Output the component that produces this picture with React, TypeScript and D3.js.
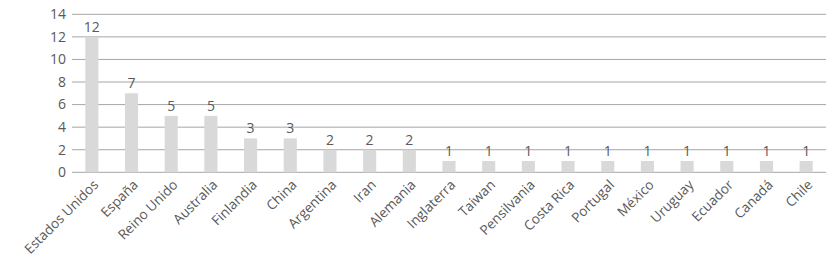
import React from "react";
import * as d3 from "d3";

const categories = ["Estados Unidos","España","Reino Unido","Australia","Finlandia","China","Argentina","Iran","Alemania","Inglaterra","Taiwan","Pensilvania","Costa Rica","Portugal","México","Uruguay","Ecuador","Canadá","Chile"];
const values = [12,7,5,5,3,3,2,2,2,1,1,1,1,1,1,1,1,1,1];
const yTicks = [0,2,4,6,8,10,12,14];

export default function App() {
  const W = 838, H = 268;
  const left = 72, right = 826, top = 14.3, bottom = 172.3;
  const x = d3.scaleBand<string>().domain(categories).range([left, right]).paddingInner(0.67).paddingOuter(0.335);
  const y = d3.scaleLinear().domain([0, 14]).range([bottom, top]);
  const font = "'Open Sans', 'Segoe UI', sans-serif";
  const textColor = "#595959";
  return (
    <svg width={W} height={H} style={{ position: "absolute", left: 0, top: 0 }} fontFamily={font}>
      {yTicks.map(t => (
        <g key={t}>
          <line x1={left} x2={right} y1={y(t)} y2={y(t)} stroke="#a6a6a6" strokeWidth={1} />
          <text x={left - 6} y={y(t)} dy="0.35em" textAnchor="end" fontSize={14} fill={textColor}>{t}</text>
        </g>
      ))}
      {categories.map((c, i) => {
        const bx = x(c)!;
        const cx = bx + x.bandwidth() / 2;
        return (
          <g key={c}>
            <rect x={bx} y={y(values[i])} width={x.bandwidth()} height={bottom - y(values[i])} fill="#d9d9d9" />
            <text x={cx} y={y(values[i]) - 5} textAnchor="middle" fontSize={14} fill={textColor}>{values[i]}</text>
            <text transform={`translate(${cx + 4},${bottom + 10}) rotate(-45)`} textAnchor="end" dy="0.35em" fontSize={13.6} fill={textColor}>{c}</text>
          </g>
        );
      })}
    </svg>
  );
}
